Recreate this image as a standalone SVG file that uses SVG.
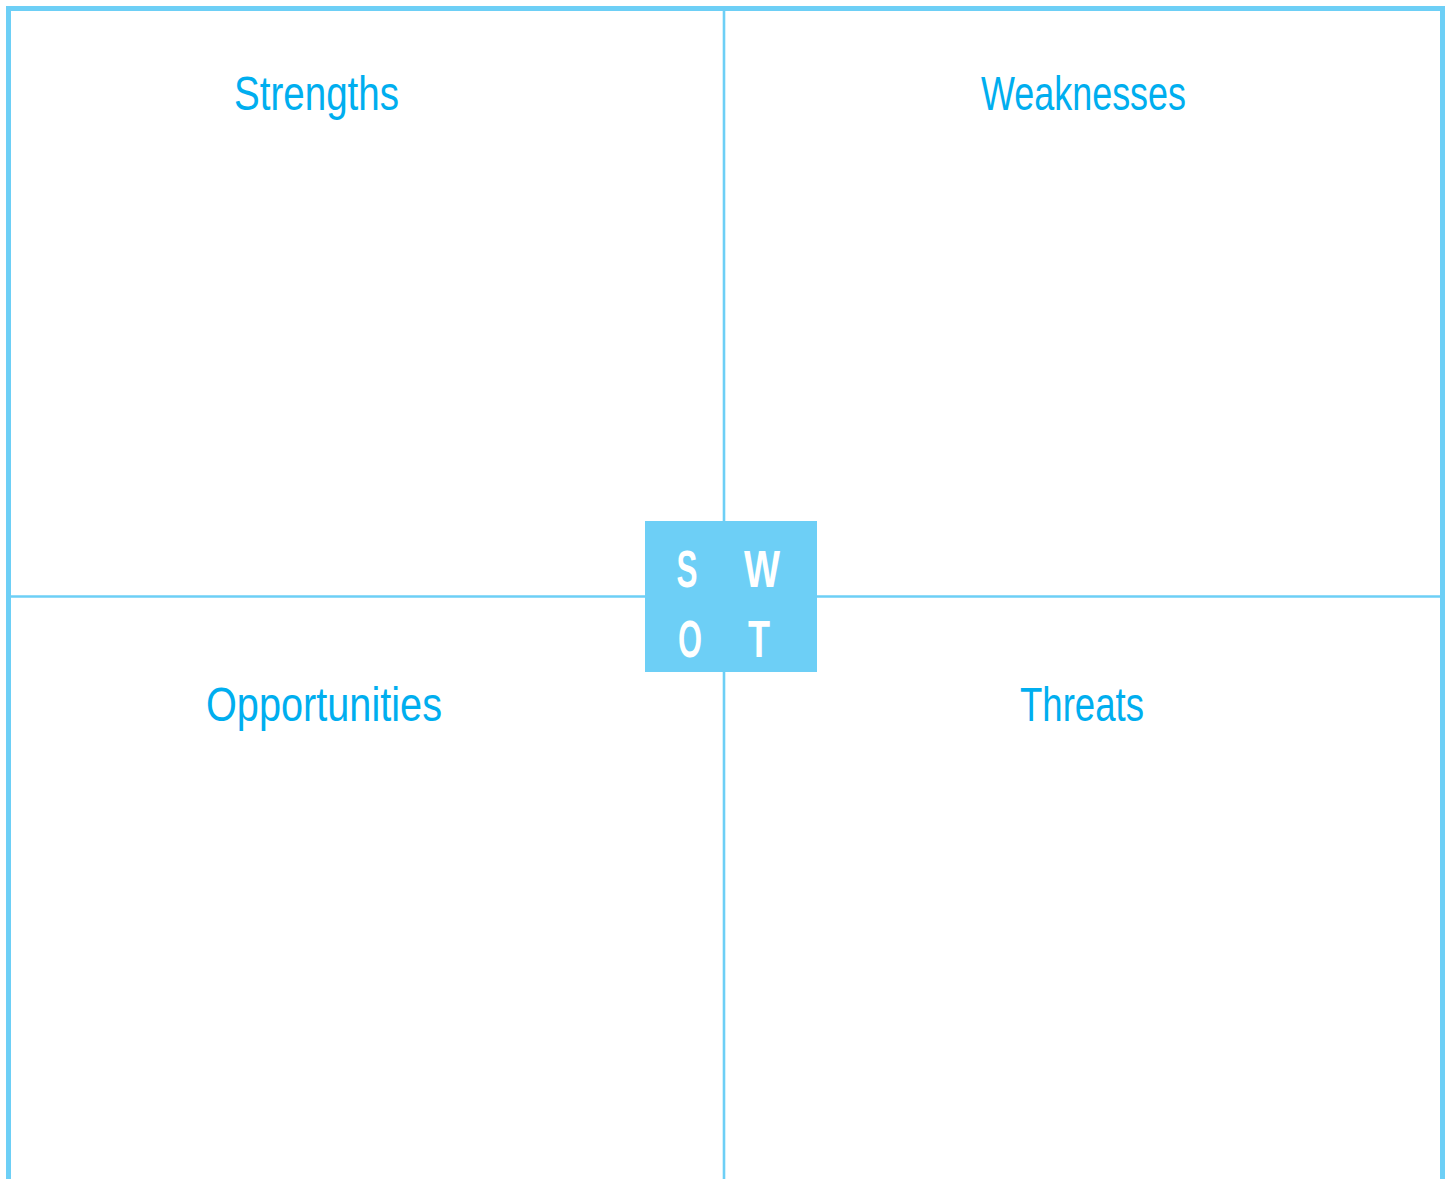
<svg xmlns="http://www.w3.org/2000/svg" width="1448" height="1179" viewBox="0 0 1448 1179">
  <style>
    .frame { fill: none; stroke: #6dcff6; stroke-width: 5; }
    .divider { fill: none; stroke: #6dcff6; stroke-width: 2.6; }
    .label { font-family: "Liberation Sans", Arial, sans-serif; font-size: 49px; fill: #00aeef; text-anchor: middle; }
    .letter { font-family: "Liberation Sans", Arial, sans-serif; font-weight: bold; font-size: 51px; fill: #ffffff; text-anchor: middle; }
  </style>
  <rect width="1448" height="1179" fill="#ffffff"/>

  <!-- outer frame and quadrant dividers -->
  <g id="connectors">
    <path class="frame" d="M8.5,1179 V8.5 H1442.5 V1179"/>
    <line class="divider" x1="724" y1="11" x2="724" y2="1179"/>
    <line class="divider" x1="11" y1="596.5" x2="1440" y2="596.5"/>
  </g>

  <g id="strengths">
    <text class="label" x="316.5" y="110" textLength="165" lengthAdjust="spacingAndGlyphs">Strengths</text>
  </g>
  <g id="weaknesses">
    <text class="label" x="1083.5" y="110" textLength="205" lengthAdjust="spacingAndGlyphs">Weaknesses</text>
  </g>
  <g id="opportunities">
    <text class="label" x="324" y="721" textLength="236" lengthAdjust="spacingAndGlyphs">Opportunities</text>
  </g>
  <g id="threats">
    <text class="label" x="1082" y="721" textLength="124" lengthAdjust="spacingAndGlyphs">Threats</text>
  </g>

  <!-- central SWOT badge -->
  <g id="swot-badge">
    <rect x="645" y="521" width="172" height="151" fill="#6dcff6"/>
    <text class="letter" x="687" y="587" textLength="21" lengthAdjust="spacingAndGlyphs">S</text>
    <text class="letter" x="762" y="587" textLength="36" lengthAdjust="spacingAndGlyphs">W</text>
    <text class="letter" x="690" y="657" textLength="24" lengthAdjust="spacingAndGlyphs">O</text>
    <text class="letter" x="759" y="657" textLength="22" lengthAdjust="spacingAndGlyphs">T</text>
  </g>
</svg>
